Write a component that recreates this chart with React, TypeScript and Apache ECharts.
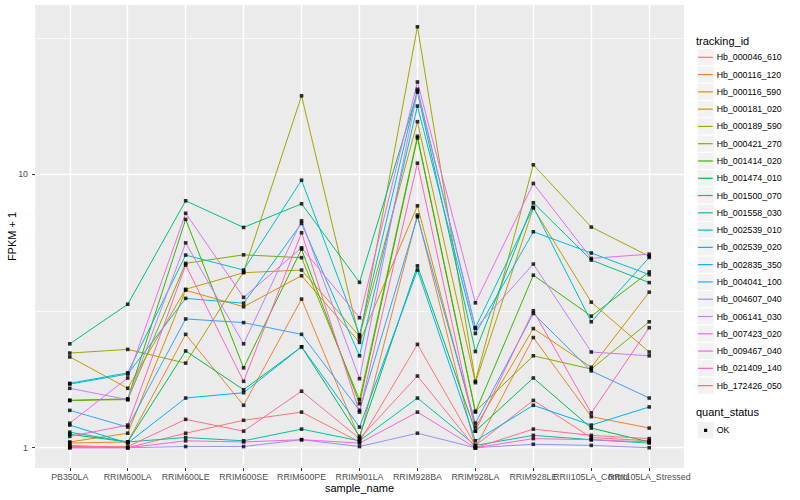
import React, { useEffect, useRef } from "react";
import * as echarts from "echarts";

const categories = [
  "PB350LA",
  "RRIM600LA",
  "RRIM600LE",
  "RRIM600SE",
  "RRIM600PE",
  "RRIM901LA",
  "RRIM928BA",
  "RRIM928LA",
  "RRIM928LE",
  "RRII105LA_Control",
  "RRII105LA_Stressed",
];

const trackingIds = [
  "Hb_000046_610",
  "Hb_000116_120",
  "Hb_000116_590",
  "Hb_000181_020",
  "Hb_000189_590",
  "Hb_000421_270",
  "Hb_001414_020",
  "Hb_001474_010",
  "Hb_001500_070",
  "Hb_001558_030",
  "Hb_002539_010",
  "Hb_002539_020",
  "Hb_002835_350",
  "Hb_004041_100",
  "Hb_004607_040",
  "Hb_006141_030",
  "Hb_007423_020",
  "Hb_009467_040",
  "Hb_021409_140",
  "Hb_172426_050",
];

const hueColors = [
  "#F8766D", "#EA8331", "#D89000", "#C09B00", "#A3A500",
  "#7CAE00", "#39B600", "#00BB4E", "#00BF7D", "#00C1A3",
  "#00BFC4", "#00BAE0", "#00B0F6", "#35A2FF", "#9590FF",
  "#C77CFF", "#E76BF3", "#FA62DB", "#FF62BC", "#FF6C91",
];

// FPKM + 1 per sample, in category order
const hb_000046_610 = [1.02, 1.0, 1.13, 1.26, 1.35, 1.05, 2.39, 1.02, 1.49, 1.09, 1.06];
const hb_000116_120 = [1.04, 1.05, 2.6, 1.43, 3.5, 1.08, 7.1, 1.0, 2.53, 1.3, 1.18];
const hb_000116_590 = [1.05, 1.13, 3.77, 3.28, 4.26, 2.43, 7.68, 1.19, 2.73, 1.97, 3.71];
const hb_000181_020 = [2.15, 1.65, 3.8, 4.37, 4.47, 2.56, 15.6, 1.73, 7.54, 3.41, 2.24];
const hb_000189_590 = [2.22, 2.29, 2.04, 4.4, 19.4, 2.5, 34.7, 1.75, 10.85, 6.42, 5.02];
const hb_000421_270 = [1.49, 1.5, 4.73, 5.08, 4.96, 1.5, 13.8, 1.36, 2.17, 1.94, 2.89];
const hb_001414_020 = [1.49, 1.51, 6.85, 1.96, 5.33, 1.45, 13.6, 1.35, 4.28, 3.03, 4.4];
const hb_001474_010 = [1.12, 1.05, 2.26, 1.63, 2.34, 1.1, 4.63, 1.15, 1.8, 1.18, 1.05];
const hb_001500_070 = [2.4, 3.35, 8.01, 6.4, 7.81, 4.03, 20.0, 2.25, 7.88, 4.86, 4.02];
const hb_001558_030 = [1.14, 1.05, 1.09, 1.06, 1.17, 1.06, 1.52, 1.02, 1.11, 1.07, 1.04];
const hb_002539_010 = [1.72, 1.88, 5.07, 4.47, 9.53, 2.59, 20.5, 2.75, 7.59, 2.89, 4.97];
const hb_002539_020 = [1.71, 1.86, 3.52, 3.38, 6.62, 2.17, 17.8, 2.62, 6.17, 5.16, 4.3];
const hb_002835_350 = [1.21, 1.04, 1.52, 1.59, 2.34, 1.19, 4.47, 1.06, 1.43, 1.21, 1.41];
const hb_004041_100 = [1.37, 1.19, 2.96, 2.87, 2.6, 1.37, 7.0, 1.23, 3.1, 1.91, 1.52];
const hb_004607_040 = [1.0, 1.0, 1.01, 1.01, 1.07, 1.01, 1.13, 1.0, 1.03, 1.02, 1.0];
const hb_006141_030 = [1.65, 1.5, 5.62, 2.4, 6.77, 1.79, 20.2, 2.73, 4.7, 2.24, 2.17];
const hb_007423_020 = [1.23, 1.8, 7.21, 3.55, 5.39, 2.99, 21.8, 3.39, 9.27, 4.93, 5.11];
const hb_009467_040 = [1.0, 1.0, 1.06, 1.05, 1.07, 1.04, 1.35, 1.0, 1.08, 1.07, 1.05];
const hb_021409_140 = [1.1, 1.21, 4.66, 1.75, 6.12, 1.35, 11.0, 1.15, 3.17, 1.34, 2.75];
const hb_172426_050 = [1.01, 1.01, 1.27, 1.15, 1.61, 1.08, 1.83, 1.0, 1.17, 1.11, 1.08];

const seriesValues = [
  hb_000046_610, hb_000116_120, hb_000116_590, hb_000181_020, hb_000189_590,
  hb_000421_270, hb_001414_020, hb_001474_010, hb_001500_070, hb_001558_030,
  hb_002539_010, hb_002539_020, hb_002835_350, hb_004041_100, hb_004607_040,
  hb_006141_030, hb_007423_020, hb_009467_040, hb_021409_140, hb_172426_050,
];

const yMajorBreaks = [1, 10];
const yMinorBreaks = [3.1623, 31.623];
const quantStatus = ["OK"];

const FONT = "'Liberation Sans', Arial, Helvetica, sans-serif";

export default function App() {
  const ref = useRef<HTMLDivElement>(null);

  useEffect(() => {
    const chart = echarts.init(ref.current!, null, { renderer: "svg" });
    const xIdx = categories.map((_, i) => i);
    // the penultimate label sits on a second axis so that ECharts does not hide overlapping labels
    const xIdxMain = xIdx.filter((i) => i !== categories.length - 2);
    const xIdxAlt = [categories.length - 2];

    const gridLines = [
      ...yMajorBreaks.map((v) => ({ yAxis: v, lineStyle: { color: "#ffffff", width: 1.4, type: "solid" } })),
      ...yMinorBreaks.map((v) => ({ yAxis: v, lineStyle: { color: "#ffffff", width: 0.7, type: "solid" } })),
    ];

    const lineSeries = seriesValues.map((vals, s) => ({
      type: "line",
      name: trackingIds[s],
      xAxisIndex: 0,
      data: vals.map((v, i) => [i, v]),
      showSymbol: false,
      symbol: "none",
      silent: true,
      z: 2,
      lineStyle: { color: hueColors[s], width: 1 },
      itemStyle: { color: hueColors[s] },
      ...(s === 0
        ? {
            markLine: {
              silent: true,
              symbol: "none",
              z: 1,
              label: { show: false },
              data: gridLines,
            },
          }
        : {}),
    }));

    const pointData: number[][] = [];
    seriesValues.forEach((vals) => vals.forEach((v, i) => pointData.push([i, v])));

    const keyTop = 48.66;
    const keyH = 17.28;
    const keyX = 697;
    const textX = 716.7;

    const legendGraphics: any[] = [
      {
        type: "text",
        x: 696,
        y: 40.7,
        style: { text: "tracking_id", fontSize: 11, fill: "#000", fontFamily: FONT, align: "left", verticalAlign: "middle" },
      },
    ];
    trackingIds.forEach((name, i) => {
      const cy = keyTop + i * keyH + keyH / 2;
      legendGraphics.push(
        {
          type: "rect",
          shape: { x: keyX, y: keyTop + i * keyH, width: keyH, height: keyH },
          style: { fill: "#F2F2F2", stroke: "#ffffff", lineWidth: 1 },
        },
        {
          type: "line",
          shape: { x1: keyX + 1, y1: cy, x2: keyX + keyH - 1.5, y2: cy },
          style: { stroke: hueColors[i], lineWidth: 1.2 },
        },
        {
          type: "text",
          x: textX,
          y: cy,
          style: { text: name, fontSize: 8.8, fill: "#000", fontFamily: FONT, align: "left", verticalAlign: "middle" },
        }
      );
    });
    const qTop = 421.7;
    legendGraphics.push(
      {
        type: "text",
        x: 696,
        y: 412.3,
        style: { text: "quant_status", fontSize: 11, fill: "#000", fontFamily: FONT, align: "left", verticalAlign: "middle" },
      },
      {
        type: "rect",
        shape: { x: keyX, y: qTop, width: keyH, height: keyH },
        style: { fill: "#F2F2F2", stroke: "#ffffff", lineWidth: 1 },
      },
      {
        type: "rect",
        shape: { x: keyX + keyH / 2 - 1.6, y: qTop + keyH / 2 - 1.6, width: 3.2, height: 3.2 },
        style: { fill: "#000" },
      },
      {
        type: "text",
        x: textX,
        y: qTop + keyH / 2,
        style: { text: quantStatus[0], fontSize: 8.8, fill: "#000", fontFamily: FONT, align: "left", verticalAlign: "middle" },
      }
    );

    const xLabelStyle = {
      formatter: (v: number) => categories[Math.round(v)] ?? "",
      color: "#4D4D4D",
      fontSize: 8.8,
      margin: 4.5,
      fontFamily: FONT,
      showMinLabel: true,
      showMaxLabel: true,
      hideOverlap: false,
    };

    chart.setOption({
      animation: false,
      backgroundColor: "#ffffff",
      textStyle: { fontFamily: FONT },
      grid: {
        left: 35,
        top: 5,
        width: 649,
        height: 463,
        show: true,
        backgroundColor: "#EBEBEB",
        borderWidth: 0,
        containLabel: false,
        outerBoundsMode: "none",
      },
      xAxis: [
        {
          type: "value",
          position: "bottom",
          min: -0.6,
          max: 10.6,
          axisLine: { show: false, onZero: false },
          axisTick: { show: true, length: 3, lineStyle: { color: "#333333", width: 1 }, customValues: xIdx },
          axisLabel: { ...xLabelStyle, customValues: xIdxMain },
          splitLine: { show: true, lineStyle: { color: "#ffffff", width: 1.4 } },
          name: "sample_name",
          nameLocation: "middle",
          nameGap: 14.5,
          nameMoveOverlap: false,
          nameTextStyle: { color: "#000", fontSize: 11, fontFamily: FONT },
        },
        {
          type: "value",
          position: "bottom",
          offset: 0,
          min: -0.6,
          max: 10.6,
          axisLine: { show: false, onZero: false },
          axisTick: { show: false, customValues: xIdxAlt },
          axisLabel: { ...xLabelStyle, customValues: xIdxAlt },
          splitLine: { show: false },
        },
      ],
      yAxis: {
        type: "log",
        logBase: 10,
        min: 0.843,
        max: 41.7,
        axisLine: { show: false, onZero: false },
        axisTick: { show: true, length: 3, lineStyle: { color: "#333333", width: 1 }, customValues: yMajorBreaks },
        axisLabel: {
          customValues: yMajorBreaks,
          color: "#4D4D4D",
          fontSize: 8.8,
          margin: 7,
          fontFamily: FONT,
          formatter: (v: number) => String(Math.round(v)),
        },
        splitLine: { show: false },
        name: "FPKM + 1",
        nameLocation: "middle",
        nameGap: 18,
        nameRotate: 90,
        nameMoveOverlap: false,
        nameTextStyle: { color: "#000", fontSize: 11, fontFamily: FONT },
      },
      series: [
        ...lineSeries,
        {
          type: "scatter",
          name: "quant_status",
          xAxisIndex: 0,
          data: pointData,
          symbol: "rect",
          symbolSize: 3.6,
          silent: true,
          z: 4,
          itemStyle: { color: "#000000" },
        },
      ],
      graphic: legendGraphics,
    });

    return () => chart.dispose();
  }, []);

  return (
    <div
      ref={ref}
      style={{ position: "absolute", left: 0, top: 0, width: 800, height: 500 }}
    />
  );
}
